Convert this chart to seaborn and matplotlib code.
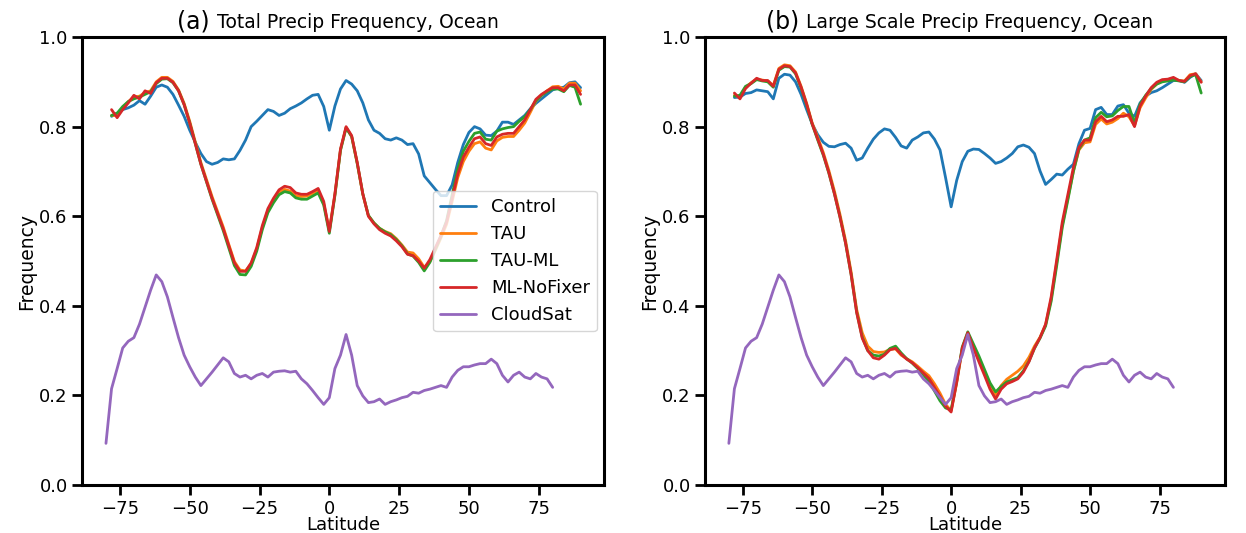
import numpy as np
import pandas as pd
import seaborn as sns
import matplotlib.pyplot as plt
from matplotlib.offsetbox import TextArea, HPacker, AnchoredOffsetbox

sns.set_style("ticks")
plt.rcParams['font.family'] = ['DejaVu Sans']
plt.rcParams.update({'text.color': 'black', 'axes.labelcolor': 'black',
                     'xtick.color': 'black', 'ytick.color': 'black'})

# latitude grids
model_lat = np.arange(-78, 91, 2)
cloudsat_lat = np.arange(-80, 81, 2)

# (a) Total precip frequency, ocean
control_a = [0.823, 0.830, 0.838, 0.842, 0.848, 0.858, 0.850, 0.868, 0.888, 0.893,
             0.888, 0.872, 0.848, 0.823, 0.792, 0.765, 0.740, 0.722, 0.716, 0.720,
             0.728, 0.726, 0.728, 0.747, 0.770, 0.800, 0.812, 0.825, 0.838, 0.834,
             0.825, 0.830, 0.840, 0.846, 0.853, 0.862, 0.870, 0.872, 0.845, 0.792,
             0.846, 0.884, 0.903, 0.895, 0.880, 0.853, 0.815, 0.792, 0.785, 0.773,
             0.770, 0.775, 0.770, 0.760, 0.762, 0.739, 0.690, 0.675, 0.660, 0.646,
             0.646, 0.670, 0.720, 0.760, 0.787, 0.800, 0.795, 0.781, 0.780, 0.790,
             0.810, 0.810, 0.805, 0.815, 0.825, 0.840, 0.852, 0.862, 0.872, 0.882,
             0.886, 0.888, 0.898, 0.900, 0.887]
tau_a = [0.825, 0.825, 0.842, 0.856, 0.866, 0.868, 0.876, 0.880, 0.900, 0.910,
         0.910, 0.901, 0.882, 0.852, 0.812, 0.766, 0.720, 0.682, 0.644, 0.610,
         0.576, 0.537, 0.499, 0.480, 0.478, 0.494, 0.527, 0.575, 0.612, 0.635,
         0.653, 0.660, 0.656, 0.646, 0.644, 0.645, 0.651, 0.658, 0.628, 0.568,
         0.648, 0.748, 0.798, 0.778, 0.718, 0.649, 0.601, 0.585, 0.573, 0.566,
         0.561, 0.550, 0.536, 0.520, 0.518, 0.505, 0.486, 0.498, 0.524, 0.552,
         0.582, 0.633, 0.686, 0.722, 0.745, 0.762, 0.766, 0.752, 0.748, 0.768,
         0.776, 0.778, 0.778, 0.792, 0.808, 0.832, 0.857, 0.870, 0.880, 0.889,
         0.890, 0.884, 0.897, 0.897, 0.880]
tau_ml_a = [0.825, 0.830, 0.845, 0.856, 0.862, 0.866, 0.872, 0.878, 0.896, 0.906,
            0.907, 0.898, 0.880, 0.849, 0.808, 0.762, 0.716, 0.677, 0.638, 0.603,
            0.568, 0.529, 0.490, 0.470, 0.469, 0.488, 0.522, 0.570, 0.608, 0.630,
            0.648, 0.655, 0.652, 0.641, 0.638, 0.638, 0.645, 0.652, 0.625, 0.562,
            0.646, 0.747, 0.797, 0.778, 0.718, 0.650, 0.602, 0.585, 0.573, 0.565,
            0.559, 0.548, 0.534, 0.516, 0.511, 0.497, 0.478, 0.497, 0.527, 0.556,
            0.590, 0.648, 0.705, 0.745, 0.767, 0.785, 0.788, 0.772, 0.770, 0.790,
            0.795, 0.798, 0.800, 0.812, 0.822, 0.838, 0.858, 0.870, 0.878, 0.884,
            0.884, 0.878, 0.892, 0.888, 0.850]
nofixer_a = [0.838, 0.820, 0.838, 0.853, 0.870, 0.862, 0.880, 0.874, 0.898, 0.908,
             0.908, 0.899, 0.880, 0.849, 0.808, 0.762, 0.716, 0.678, 0.640, 0.606,
             0.572, 0.534, 0.496, 0.477, 0.477, 0.496, 0.530, 0.579, 0.617, 0.640,
             0.659, 0.667, 0.664, 0.652, 0.649, 0.649, 0.655, 0.662, 0.633, 0.566,
             0.650, 0.750, 0.800, 0.780, 0.720, 0.650, 0.600, 0.583, 0.570, 0.562,
             0.556, 0.545, 0.532, 0.515, 0.512, 0.500, 0.484, 0.503, 0.530, 0.557,
             0.587, 0.640, 0.694, 0.732, 0.754, 0.773, 0.777, 0.762, 0.758, 0.777,
             0.783, 0.785, 0.785, 0.800, 0.815, 0.838, 0.861, 0.872, 0.880, 0.887,
             0.887, 0.880, 0.893, 0.893, 0.872]

# (b) Large scale precip frequency, ocean
control_b = [0.865, 0.866, 0.874, 0.876, 0.882, 0.880, 0.878, 0.862, 0.908, 0.917,
             0.915, 0.900, 0.872, 0.838, 0.806, 0.782, 0.765, 0.756, 0.755, 0.760,
             0.763, 0.752, 0.725, 0.730, 0.752, 0.772, 0.786, 0.795, 0.792, 0.776,
             0.757, 0.752, 0.770, 0.777, 0.786, 0.788, 0.772, 0.748, 0.686, 0.621,
             0.680, 0.722, 0.745, 0.750, 0.749, 0.740, 0.730, 0.718, 0.722, 0.730,
             0.740, 0.755, 0.759, 0.754, 0.740, 0.701, 0.671, 0.682, 0.694, 0.692,
             0.705, 0.716, 0.762, 0.792, 0.796, 0.838, 0.843, 0.827, 0.827, 0.846,
             0.849, 0.830, 0.823, 0.853, 0.868, 0.876, 0.880, 0.887, 0.895, 0.903,
             0.903, 0.899, 0.910, 0.918, 0.903]
tau_b = [0.870, 0.866, 0.888, 0.898, 0.906, 0.904, 0.902, 0.892, 0.930, 0.938,
         0.936, 0.922, 0.890, 0.852, 0.808, 0.776, 0.742, 0.702, 0.656, 0.604,
         0.546, 0.476, 0.392, 0.340, 0.310, 0.298, 0.296, 0.297, 0.303, 0.304,
         0.290, 0.282, 0.275, 0.265, 0.254, 0.244, 0.226, 0.205, 0.180, 0.166,
         0.228, 0.303, 0.338, 0.308, 0.280, 0.250, 0.220, 0.200, 0.222, 0.236,
         0.245, 0.254, 0.266, 0.285, 0.310, 0.330, 0.358, 0.415, 0.497, 0.580,
         0.640, 0.700, 0.748, 0.764, 0.766, 0.805, 0.817, 0.806, 0.810, 0.818,
         0.830, 0.822, 0.802, 0.842, 0.864, 0.883, 0.895, 0.902, 0.905, 0.908,
         0.903, 0.902, 0.916, 0.918, 0.900]
tau_ml_b = [0.868, 0.870, 0.890, 0.896, 0.905, 0.902, 0.900, 0.888, 0.926, 0.934,
            0.933, 0.918, 0.886, 0.848, 0.805, 0.770, 0.736, 0.696, 0.650, 0.598,
            0.540, 0.470, 0.386, 0.330, 0.300, 0.290, 0.288, 0.292, 0.305, 0.310,
            0.295, 0.282, 0.272, 0.260, 0.246, 0.232, 0.210, 0.188, 0.172, 0.168,
            0.232, 0.308, 0.342, 0.315, 0.288, 0.258, 0.228, 0.208, 0.220, 0.230,
            0.235, 0.240, 0.255, 0.276, 0.305, 0.328, 0.355, 0.410, 0.490, 0.575,
            0.636, 0.700, 0.750, 0.770, 0.775, 0.820, 0.832, 0.822, 0.824, 0.836,
            0.845, 0.845, 0.808, 0.850, 0.870, 0.885, 0.895, 0.900, 0.902, 0.904,
            0.902, 0.900, 0.912, 0.916, 0.875]
nofixer_b = [0.875, 0.862, 0.885, 0.897, 0.908, 0.903, 0.903, 0.890, 0.928, 0.936,
             0.934, 0.920, 0.888, 0.850, 0.806, 0.772, 0.738, 0.697, 0.650, 0.598,
             0.540, 0.470, 0.385, 0.328, 0.300, 0.284, 0.281, 0.290, 0.302, 0.305,
             0.292, 0.281, 0.273, 0.262, 0.250, 0.238, 0.218, 0.198, 0.176, 0.163,
             0.230, 0.306, 0.340, 0.306, 0.275, 0.245, 0.214, 0.192, 0.214, 0.226,
             0.231, 0.237, 0.252, 0.275, 0.306, 0.329, 0.359, 0.420, 0.503, 0.587,
             0.648, 0.709, 0.754, 0.770, 0.770, 0.811, 0.823, 0.811, 0.815, 0.823,
             0.823, 0.827, 0.800, 0.846, 0.868, 0.887, 0.899, 0.905, 0.906, 0.910,
             0.903, 0.901, 0.914, 0.918, 0.899]

# CloudSat observations (same in both panels)
cloudsat = [0.093, 0.215, 0.260, 0.306, 0.321, 0.329, 0.359, 0.397, 0.435, 0.469,
            0.454, 0.420, 0.374, 0.329, 0.290, 0.264, 0.241, 0.222, 0.237, 0.252,
            0.268, 0.284, 0.275, 0.249, 0.241, 0.245, 0.237, 0.245, 0.249, 0.241,
            0.252, 0.254, 0.255, 0.252, 0.254, 0.237, 0.226, 0.211, 0.195, 0.180,
            0.195, 0.260, 0.290, 0.336, 0.290, 0.222, 0.199, 0.184, 0.186, 0.192,
            0.180, 0.186, 0.190, 0.195, 0.198, 0.207, 0.205, 0.211, 0.214, 0.218,
            0.222, 0.218, 0.241, 0.256, 0.264, 0.264, 0.268, 0.271, 0.271, 0.281,
            0.271, 0.245, 0.230, 0.245, 0.252, 0.241, 0.237, 0.249, 0.241, 0.237,
            0.218]

series_names = ['Control', 'TAU', 'TAU-ML', 'ML-NoFixer']
colors = ['#1f77b4', '#ff7f0e', '#2ca02c', '#d62728', '#9467bd']

panels = [
    ('(a)', 'Total Precip Frequency, Ocean', [control_a, tau_a, tau_ml_a, nofixer_a]),
    ('(b)', 'Large Scale Precip Frequency, Ocean', [control_b, tau_b, tau_ml_b, nofixer_b]),
]

fig = plt.figure(figsize=(12.46, 5.33), dpi=100)
axes = [fig.add_axes([0.066, 0.09, 0.419, 0.8405]),
        fig.add_axes([0.566, 0.09, 0.417, 0.8405])]

for i, (ax, (tag, title, model_series)) in enumerate(zip(axes, panels)):
    for name, vals, c in zip(series_names, model_series, colors):
        sns.lineplot(x=model_lat, y=vals, ax=ax, color=c, linewidth=2,
                     label=name if i == 0 else None)
    sns.lineplot(x=cloudsat_lat, y=cloudsat, ax=ax, color=colors[4], linewidth=2,
                 label='CloudSat' if i == 0 else None)

    ax.set_ylim(0, 1.0)
    ax.set_yticks([0.0, 0.2, 0.4, 0.6, 0.8, 1.0])
    ax.set_xticks([-75, -50, -25, 0, 25, 50, 75])
    ax.set_xlabel('Latitude', fontsize=13, labelpad=-1)
    ax.set_ylabel('Frequency', fontsize=13.5, labelpad=2)
    ax.tick_params(axis='both', labelsize=13, length=7, width=2, direction='out')
    for sp in ax.spines.values():
        sp.set_linewidth(2.2)
        sp.set_color('black')

    # mixed-size title
    box = HPacker(children=[TextArea(tag, textprops=dict(size=17)),
                            TextArea(title, textprops=dict(size=13.5))],
                  align='baseline', pad=0, sep=5)
    anchored = AnchoredOffsetbox(loc='lower center', child=box, pad=0.0,
                                 frameon=False, bbox_to_anchor=(0.49, 1.008),
                                 bbox_transform=ax.transAxes, borderpad=0.0)
    ax.add_artist(anchored)

axes[0].legend(loc='center right', fontsize=13, handlelength=2.0,
               borderaxespad=0.4, frameon=True)
if axes[1].get_legend() is not None:
    axes[1].get_legend().remove()

fig.savefig('out.png', dpi=100, facecolor='white')
